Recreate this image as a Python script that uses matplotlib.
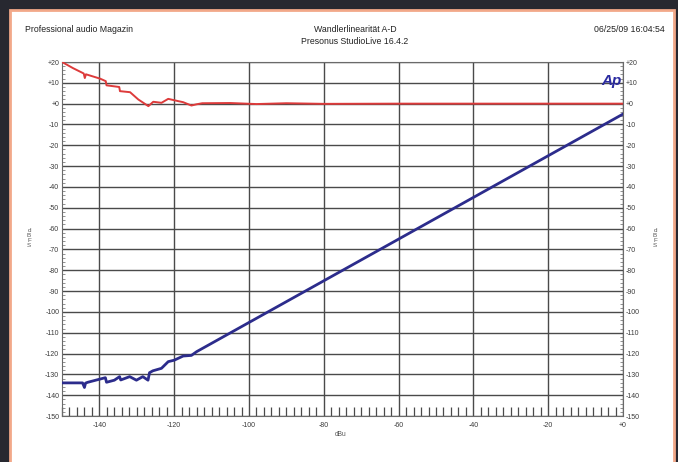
import matplotlib
matplotlib.use("Agg")
import matplotlib.pyplot as plt
from matplotlib.patches import Rectangle
from matplotlib.ticker import MultipleLocator, FixedLocator

plt.rcParams['font.family'] = ['Liberation Sans', 'DejaVu Sans']

# Input level (dBu) vs. measured output level (dBFS)
level_in = [-150.0, -144.5, -144.0, -143.7, -143.1, -138.4, -138.1, -136.0, -134.6,
            -134.3, -131.9, -130.1, -128.4, -127.0, -126.6, -125.7, -123.4, -121.6,
            -120.0, -117.6, -115.4, -114.0, 0.0]
level_out = [-134.1, -134.1, -136.3, -134.2, -133.8, -131.6, -133.8, -132.8, -131.1,
             -132.7, -131.1, -132.8, -131.1, -132.8, -129.2, -128.3, -127.1, -123.9,
             -123.2, -121.2, -120.9, -119.1, -5.0]

# Linearity deviation (dB)
dev_in = [-150.0, -147.0, -144.2, -143.9, -143.6, -139.8, -138.3, -138.1, -134.7,
          -134.5, -131.8, -129.6, -126.9, -125.6, -123.4, -121.6, -118.9, -117.6,
          -115.4, -114.0, -112.5, -105.0, -98.0, -90.0, -80.0, -60.0, -40.0, -20.0, 0.0]
dev_db = [20.0, 17.0, 14.5, 12.3, 14.1, 12.0, 10.8, 8.8, 8.0,
          6.0, 5.5, 2.0, -1.2, 0.9, 0.4, 2.3, 1.2, 0.7,
          -0.9, -0.3, 0.2, 0.3, -0.2, 0.2, -0.1, 0.0, 0.0, 0.0, 0.0]

x_ticks = [-140, -120, -100, -80, -60, -40, -20, 0]
x_labels = ['-140', '-120', '-100', '-80', '-60', '-40', '-20', '+0']
y_ticks = [20, 10, 0, -10, -20, -30, -40, -50, -60, -70, -80, -90, -100,
           -110, -120, -130, -140, -150]
y_labels = ['+20', '+10', '+0', '-10', '-20', '-30', '-40', '-50', '-60', '-70',
            '-80', '-90', '-100', '-110', '-120', '-130', '-140', '-150']

W, H = 678, 462
fig = plt.figure(figsize=(W / 100, H / 100), dpi=100)
fig.patch.set_facecolor('#272830')

# White report sheet with salmon edge
sheet = Rectangle((9.5 / W, -0.05), 664 / W, 1.05 - 9.5 / H,
                  transform=fig.transFigure, facecolor='white',
                  edgecolor='#f2a889', linewidth=2.0, zorder=-10)
fig.patches.append(sheet)

ax = fig.add_axes([62 / W, 1 - 416 / H, (623 - 62) / W, (416 - 62) / H])
ax.set_zorder(5)
ax.set_xlim(-150, 0)
ax.set_ylim(-150, 20)
ax.set_facecolor('white')

grid_c = '#4a4a4a'
ax.xaxis.set_major_locator(FixedLocator(x_ticks))
ax.yaxis.set_major_locator(FixedLocator(y_ticks))
ax.xaxis.set_minor_locator(MultipleLocator(2))
ax.yaxis.set_minor_locator(MultipleLocator(2))
ax.grid(True, which='major', color=grid_c, linewidth=1.0)
ax.set_xticklabels(x_labels)
ax.set_yticklabels(y_labels)

ax.tick_params(axis='x', which='major', length=0, labelsize=5.0,
               labelcolor='#3a3a3a', pad=4)
ax.tick_params(axis='x', which='minor', direction='in', length=6.5,
               width=0.9, color='#4a4a4a')
ax.tick_params(axis='y', which='major', direction='in', length=0, labelsize=5.0,
               labelcolor='#3a3a3a', pad=2, left=True, right=True,
               labelleft=True, labelright=True)
ax.tick_params(axis='y', which='minor', direction='in', length=2.5, width=0.5,
               color='#666666', left=True, right=True)
for s in ax.spines.values():
    s.set_color('#6a6a6a')
    s.set_linewidth(0.8)

ax.plot(dev_in, dev_db, color='#dd3b3b', linewidth=1.4, zorder=3)
ax.plot(level_in, level_out, color='#2c2c8c', linewidth=2.0, zorder=3)

ax.text(0.997, 0.965, 'Ap', transform=ax.transAxes, ha='right', va='top',
        fontsize=11, fontweight='bold', fontstyle='italic', color='#2b2ba0',
        zorder=4)

# Header
tc = '#222222'
fig.text(25 / W, 1 - 29 / H, 'Professional audio Magazin', fontsize=6.3,
         color=tc, ha='left', va='center')
fig.text(355 / W, 1 - 29 / H, 'Wandlerlinearität A-D', fontsize=6.3,
         color=tc, ha='center', va='center')
fig.text(355 / W, 1 - 41 / H, 'Presonus StudioLive 16.4.2', fontsize=6.3,
         color=tc, ha='center', va='center')
fig.text(665 / W, 1 - 29 / H, '06/25/09 16:04:54', fontsize=6.3,
         color=tc, ha='right', va='center')

# Axis titles
fig.text(341 / W, 1 - 434 / H, 'dBu', fontsize=4.8, color='#555555',
         ha='center', va='center')
fig.text(29 / W, 1 - 238 / H, 'd\nB\nF\nS', fontsize=4.5, color='#555555',
         ha='center', va='center', linespacing=1.0)
fig.text(655 / W, 1 - 238 / H, 'd\nB\nF\nS', fontsize=4.5, color='#555555',
         ha='center', va='center', linespacing=1.0)

fig.savefig('out.png', dpi=100, facecolor=fig.get_facecolor())
